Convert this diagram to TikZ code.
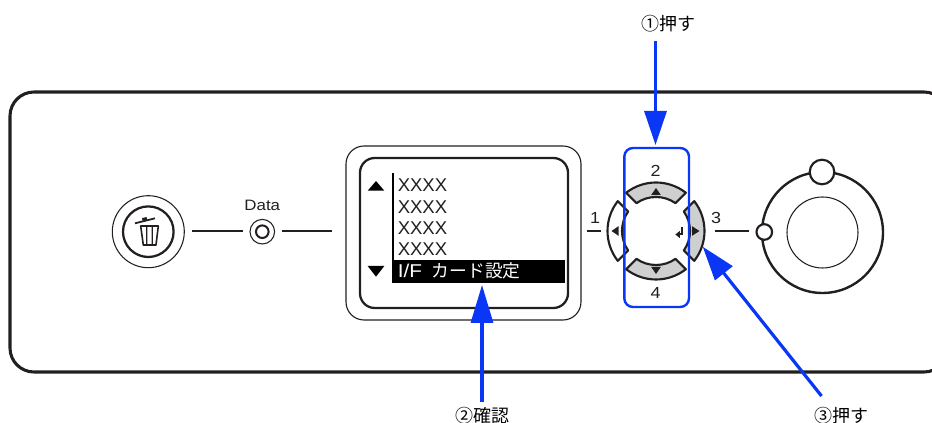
\documentclass[tikz,border=0pt]{standalone}
\usepackage{fontspec}
\setmainfont{Liberation Sans}
\newfontfamily\cjk{Noto Sans CJK JP}
\newfontfamily\widesans[FakeStretch=1.12]{Liberation Sans}
\usetikzlibrary{arrows.meta}
\definecolor{ink}{HTML}{231F20}
\definecolor{callout}{HTML}{0A37F5}
\definecolor{keygray}{HTML}{CDCFD0}
\tikzset{
  medium/.style={draw=ink,line width=1.5pt},
  fine/.style={draw=ink,line width=0.8pt},
  tick/.style={draw=ink,line width=0.8pt},
  keyshape/.style={draw=ink,line width=1.6pt,line join=round},
  callarrow/.style={draw=callout,line width=2.4pt,-{Triangle[length=25.5pt,width=16.5pt]}},
  lbl/.style={inner sep=0pt,font=\cjk\fontsize{13.5pt}{14pt}\selectfont},
  keynum/.style={inner sep=0pt,text=ink,font=\widesans\fontsize{12pt}{13pt}\selectfont},
  lcdtext/.style={inner sep=0pt,anchor=base west,text=ink,font=\fontsize{13.9pt}{14pt}\selectfont},
}
\newcommand{\keypath}{(128:48.5) arc (128:52:48.5) -- (55:34) arc (55:125:34) -- cycle}
\begin{document}
\begin{tikzpicture}[x=0.75pt,y=-0.75pt]
\useasboundingbox (0,0) rectangle (932,423);
\clip (0,0) rectangle (932,423);
% panel
\draw[draw=ink,line width=2.3pt,rounded corners=18pt] (10,92) rectangle (948,372);
% trash button
\draw[fine] (148.3,231.7) circle (36);
\draw[draw=ink,line width=1.7pt] (148.3,231.7) circle (25.3);
\draw[draw=ink,line width=1.2pt,line join=round] (140.7,226) -- (143.3,245) -- (156,245) -- (158.3,226) -- cycle;
\draw[draw=ink,line width=1pt] (146.7,227) -- (146.8,245) (152.3,227) -- (152.2,245);
\draw[draw=ink,line width=1.3pt] (135,223.3) -- (155,218.3);
\fill[ink] (142,218.2) -- (146.5,217) -- (147.2,219.8) -- (142.6,220.8) -- cycle;
% ticks
\draw[tick] (192,231) -- (242.5,231);
\draw[tick] (282,231) -- (332,231);
\draw[tick] (587,231) -- (601,231);
\draw[tick] (715,231) -- (749,231);
% data lamp
\node[inner sep=0pt,text=ink,font=\widesans\fontsize{11.3pt}{12pt}\selectfont] (datalabel) at (262.3,205.5) {Data};
\draw[fine] (262.3,231.7) circle (12.3);
\draw[medium] (262.3,231.7) circle (6.3);
% LCD
\draw[fine,line width=0.85pt,rounded corners=13.5pt] (346,146) rectangle (581,320);
\draw[draw=ink,line width=1.7pt,rounded corners=11pt] (360,158) rectangle (568,308);
\fill[black] (393,260) rectangle (565,282.7);
\draw[draw=black,line width=1.3pt] (392.7,173) -- (392.7,283);
\fill[black] (376,181) -- (384.3,190.7) -- (367.7,190.7) -- cycle;
\fill[black] (376,276.7) -- (384.3,266) -- (367.7,266) -- cycle;
\node[lcdtext] (x1) at (397.5,191.7) {XXXX};
\node[lcdtext] (x2) at (397.5,213.5) {XXXX};
\node[lcdtext] (x3) at (397.5,234.7) {XXXX};
\node[lcdtext] (x4) at (397.5,256) {XXXX};
\node[lcdtext,text=white] (iface) at (397.5,277.5) {\widesans I/F\hspace{7.5pt}{\cjk\fontsize{13.3pt}{14pt}\selectfont カード設定}};
% keys
\begin{scope}[shift={(656,231)},y=0.75pt]
  \filldraw[keyshape,fill=keygray] \keypath;
  \fill[ink] (0,43) -- (-4.8,36) -- (4.8,36) -- cycle;
  \begin{scope}[rotate=180]
    \filldraw[keyshape,fill=keygray] \keypath;
    \fill[ink] (0,43) -- (-4.8,36) -- (4.8,36) -- cycle;
  \end{scope}
  \begin{scope}[rotate=-90]
    \filldraw[keyshape,fill=keygray] \keypath;
    \fill[ink] (0,43.5) -- (-4.8,36) -- (4.8,36) -- cycle;
  \end{scope}
  \begin{scope}[rotate=90]
    \filldraw[keyshape,fill=white] \keypath;
    \fill[ink] (0,44.5) -- (-4.8,37.5) -- (4.8,37.5) -- cycle;
  \end{scope}
\end{scope}
% enter glyph
\draw[draw=ink,line width=1.5pt] (681.6,227.5) -- (681.6,234.5) -- (678.5,234.5);
\fill[ink] (675.3,234.5) -- (679.8,231) -- (679.8,238) -- cycle;
\node[keynum] (k2) at (655.5,170.7) {2};
\node[keynum] (k4) at (655.5,292.5) {4};
\node[keynum] (k1) at (595,218.5) {1};
\node[keynum] (k3) at (716,217.5) {3};
% dial
\draw[draw=ink,line width=1.8pt] (822.5,232.5) circle (60.5);
\draw[fine] (822.5,232.5) circle (35.5);
\filldraw[draw=ink,fill=white,line width=1.6pt] (822,172) circle (12.3);
\filldraw[draw=ink,fill=white,line width=1.6pt] (764.3,232) circle (7.8);
% frame
\draw[draw=callout,line width=1.8pt,rounded corners=6.5pt] (624.3,148) rectangle (689,307);
% callouts
\coordinate (a1s) at (655.5,41);
\coordinate (a1e) at (655.5,145);
\coordinate (a2s) at (482,402);
\coordinate (a2e) at (482,285);
\coordinate (a3s) at (821.5,396);
\coordinate (a3e) at (702.7,246.7);
\draw[callarrow] (a1s) -- (a1e);
\draw[callarrow,-{Triangle[length=28.5pt,width=16.5pt]}] (a2s) -- (a2e);
\draw[callarrow] (a3s) -- (a3e);
\node[lbl] (l1) at (668.3,24) {①押す};
\node[lbl] (l2) at (482,415.5) {②確認};
\node[lbl] (l3) at (841.5,415.5) {③押す};
\end{tikzpicture}
\end{document}
